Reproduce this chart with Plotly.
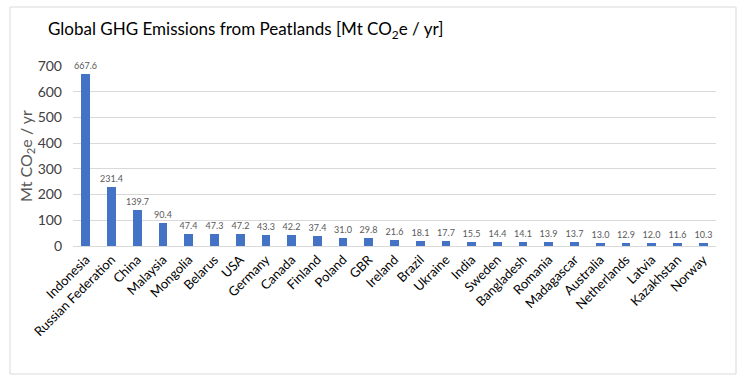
import plotly.graph_objects as go

countries = ["Indonesia", "Russian Federation", "China", "Malaysia", "Mongolia", "Belarus", "USA",
             "Germany", "Canada", "Finland", "Poland", "GBR", "Ireland", "Brazil", "Ukraine", "India",
             "Sweden", "Bangladesh", "Romania", "Madagascar", "Australia", "Netherlands", "Latvia",
             "Kazakhstan", "Norway"]
emissions = [667.6, 231.4, 139.7, 90.4, 47.4, 47.3, 47.2, 43.3, 42.2, 37.4, 31.0, 29.8, 21.6, 18.1,
             17.7, 15.5, 14.4, 14.1, 13.9, 13.7, 13.0, 12.9, 12.0, 11.6, 10.3]
y_ticks = [0, 100, 200, 300, 400, 500, 600, 700]

W, H = 748, 382
L, R, T, B = 73, 32, 66, 136
pw, ph = W - L - R, H - T - B

fig = go.Figure(go.Bar(
    x=countries, y=emissions,
    marker=dict(color="#4472C4", line=dict(width=0)),
    width=0.34,
    text=[f"{v:.1f}" for v in emissions],
    textposition="outside",
    constraintext="none",
    textfont=dict(size=9, color="#595959", family="Lato"),
    cliponaxis=False,
))

fig.update_layout(
    width=W, height=H,
    margin=dict(l=L, r=R, t=T, b=B, autoexpand=False),
    paper_bgcolor="white", plot_bgcolor="white",
    font=dict(family="Lato", color="#595959"),
    showlegend=False,
    bargap=0,
    title=dict(text="Global GHG Emissions from Peatlands [Mt CO<sub>2</sub>e / yr]",
               x=48 / W, xanchor="left", y=1 - 29 / H, yanchor="middle",
               font=dict(size=17, color="#000000", family="Lato")),
    xaxis=dict(tickangle=-45, tickfont=dict(size=13, color="#000000"),
               showgrid=False, showline=True, linecolor="#D9D9D9", linewidth=1,
               ticks="", range=[-0.5, len(countries) - 0.5]),
    yaxis=dict(range=[0, 700], tickvals=y_ticks, tickfont=dict(size=14, color="#404040"),
               showgrid=True, gridcolor="#D9D9D9", gridwidth=1, zeroline=False,
               showline=False, ticklabelstandoff=10,
               title=dict(text="Mt CO<sub>2</sub>e / yr", font=dict(size=16, color="#595959"),
                          standoff=1)),
    shapes=[dict(type="rect", xref="paper", yref="paper",
                 x0=(10 - L) / pw, x1=(736 - L) / pw,
                 y0=(H - B - 374) / ph, y1=(H - B - 7) / ph,
                 line=dict(color="#D9D9D9", width=1), fillcolor="rgba(0,0,0,0)", layer="below")],
)

fig.write_html("out.html", config={"displayModeBar": False},
               post_script="document.body.style.margin='0';")
